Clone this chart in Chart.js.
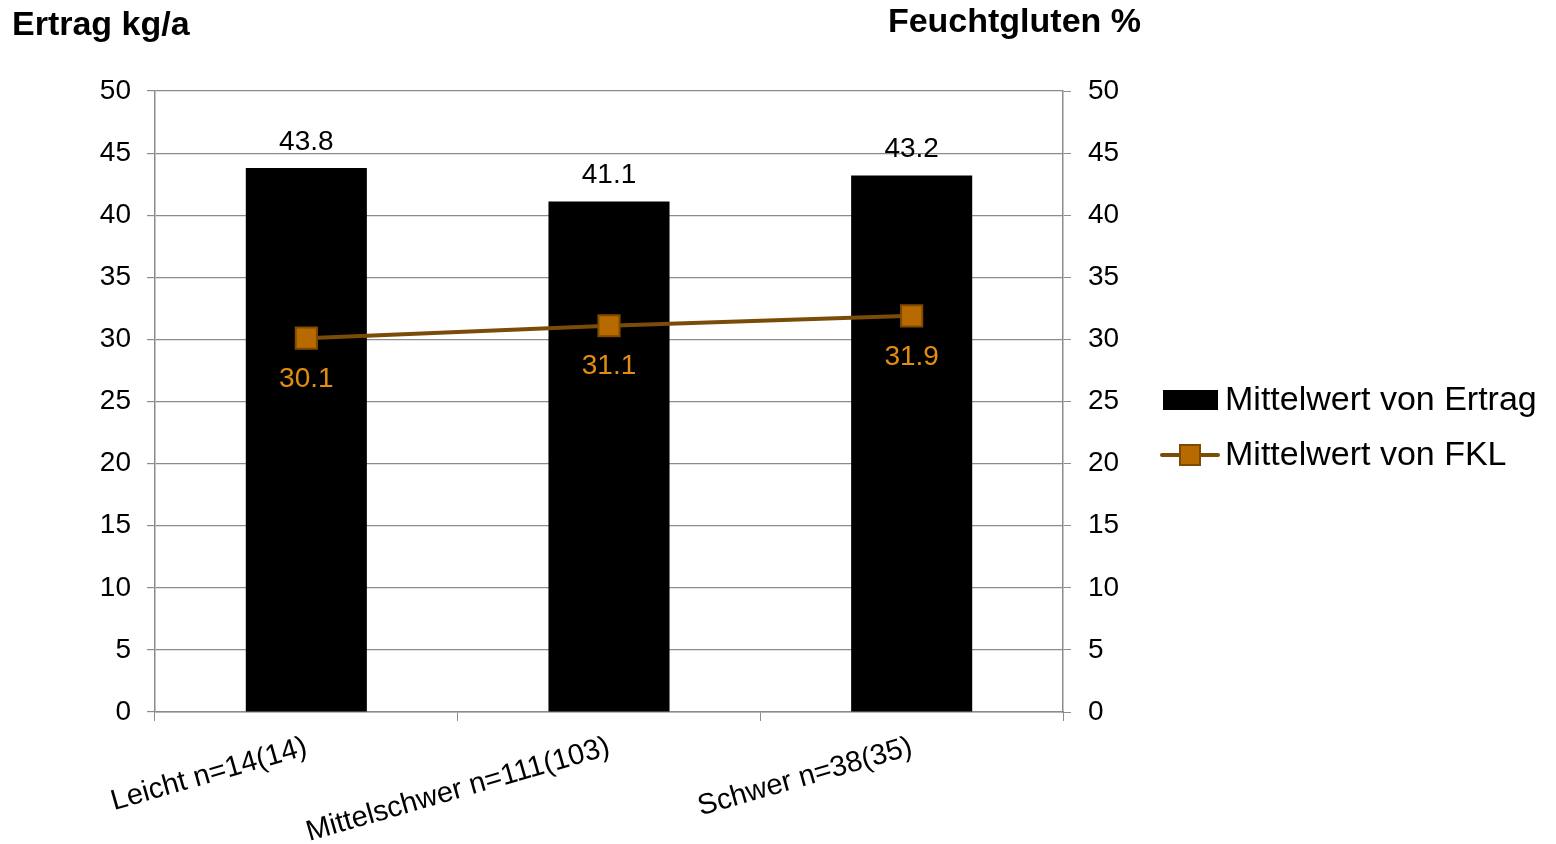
<!DOCTYPE html>
<html>
<head>
<meta charset="utf-8">
<script src="https://cdn.jsdelivr.net/npm/chart.js@4"></script>
<style>
  html, body { margin: 0; padding: 0; background: #fff; }
</style>
</head>
<body>
<canvas id="chart" width="1556" height="844"></canvas>
<script>
// Data
const categories = ['Leicht n=14(14)', 'Mittelschwer n=111(103)', 'Schwer n=38(35)'];
const ertragValues = [43.8, 41.1, 43.2];
const fklValues = [30.1, 31.1, 31.9];
const seriesNames = ['Mittelwert von Ertrag', 'Mittelwert von FKL'];
const leftTitle = 'Ertrag kg/a';
const rightTitle = 'Feuchtgluten %';

const FONT = "'Liberation Sans', Arial, sans-serif";
const gridGray = '#8c8c8c';
const lineBrown = '#7a4c08';
const markerFill = '#b76a00';
const markerBorder = '#7f4a00';
const labelOrange = '#e38d10';

// value labels above bars and below points
const valueLabels = {
    id: 'valueLabels',
    afterDatasetsDraw(chart) {
        const ctx = chart.ctx;
        ctx.save();
        ctx.textAlign = 'center';
        ctx.font = '28px ' + FONT;
        ctx.fillStyle = '#000';
        ctx.textBaseline = 'bottom';
        chart.getDatasetMeta(0).data.forEach((bar, i) => {
            ctx.fillText(ertragValues[i].toFixed(1), bar.x, bar.y - 12);
        });
        ctx.fillStyle = labelOrange;
        ctx.textBaseline = 'top';
        chart.getDatasetMeta(1).data.forEach((pt, i) => {
            ctx.fillText(fklValues[i].toFixed(1), pt.x, pt.y + 27);
        });
        ctx.restore();
    }
};

// axis titles on top and legend on the right
const decorations = {
    id: 'decorations',
    afterDraw(chart) {
        const ctx = chart.ctx;
        ctx.save();
        ctx.font = 'bold 34px ' + FONT;
        ctx.fillStyle = '#000';
        ctx.textBaseline = 'alphabetic';
        ctx.textAlign = 'left';
        ctx.fillText(leftTitle, 12, 35);
        ctx.textAlign = 'right';
        ctx.fillText(rightTitle, 1141, 32);

        // legend
        const lx = 1162, tx = 1225;
        const y1 = 400, y2 = 455;
        ctx.fillStyle = '#000';
        ctx.fillRect(lx + 1, y1 - 10, 55, 20);
        ctx.strokeStyle = lineBrown;
        ctx.lineWidth = 4;
        ctx.lineCap = 'round';
        ctx.beginPath();
        ctx.moveTo(lx, y2);
        ctx.lineTo(lx + 56, y2);
        ctx.stroke();
        ctx.fillStyle = markerFill;
        ctx.strokeStyle = markerBorder;
        ctx.lineWidth = 2;
        ctx.fillRect(lx + 18, y2 - 10, 20, 20);
        ctx.strokeRect(lx + 18, y2 - 10, 20, 20);

        ctx.font = '34px ' + FONT;
        ctx.fillStyle = '#000';
        ctx.textAlign = 'left';
        ctx.textBaseline = 'middle';
        ctx.fillText(seriesNames[0], tx, y1 + 1);
        ctx.fillText(seriesNames[1], tx, y2 + 1);
        ctx.restore();
    }
};

new Chart(document.getElementById('chart'), {
    type: 'bar',
    data: {
        labels: categories,
        datasets: [{
            label: seriesNames[0],
            data: ertragValues,
            backgroundColor: '#000',
            categoryPercentage: 1,
            barPercentage: 0.4,
            yAxisID: 'y',
            order: 2
        }, {
            type: 'line',
            label: seriesNames[1],
            data: fklValues,
            borderColor: lineBrown,
            borderWidth: 4,
            pointStyle: 'rect',
            pointRadius: 15,
            pointBackgroundColor: markerFill,
            pointBorderColor: markerBorder,
            pointBorderWidth: 2,
            yAxisID: 'y2',
            order: 1
        }]
    },
    options: {
        responsive: false,
        animation: false,
        layout: { padding: { top: 91, left: 0, right: 406, bottom: 0 } },
        plugins: {
            legend: { display: false },
            tooltip: { enabled: false }
        },
        scales: {
            x: {
                grid: { offset: true, drawOnChartArea: false, color: gridGray, tickLength: 9 },
                border: { color: gridGray, width: 1.5 },
                ticks: {
                    color: '#000',
                    font: { family: FONT, size: 29 },
                    minRotation: 16,
                    maxRotation: 16,
                    padding: 9
                },
                afterFit(scale) { scale.height = 132; }
            },
            y: {
                position: 'left',
                min: 0,
                max: 50,
                ticks: { stepSize: 5, color: '#000', font: { family: FONT, size: 28 }, padding: 16 },
                grid: { color: gridGray, tickLength: 8, lineWidth: 1.2 },
                border: { color: gridGray, width: 1.5 },
                afterFit(scale) { scale.width = 155; }
            },
            y2: {
                position: 'right',
                min: 0,
                max: 50,
                ticks: { stepSize: 5, color: '#000', font: { family: FONT, size: 28 }, padding: 17 },
                grid: { drawOnChartArea: false, color: gridGray, tickLength: 8 },
                border: { color: gridGray, width: 1.5 },
                afterFit(scale) { scale.width = 87; }
            }
        }
    },
    plugins: [valueLabels, decorations]
});
</script>
</body>
</html>
